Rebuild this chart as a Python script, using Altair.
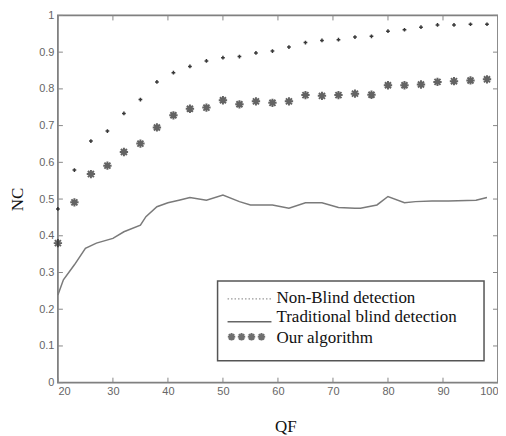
import altair as alt
import pandas as pd

# ---- data ----
qf = [20, 23, 26, 29, 32, 35, 38, 41, 44, 47, 50, 53, 56, 59, 62, 65, 68, 71, 74, 77, 80, 83, 86, 89, 92, 95, 98]
non_blind = [0.473, 0.579, 0.658, 0.685, 0.733, 0.771, 0.819, 0.844, 0.861, 0.876, 0.885, 0.888, 0.898, 0.903,
             0.914, 0.926, 0.932, 0.934, 0.941, 0.943, 0.957, 0.961, 0.968, 0.974, 0.974, 0.976, 0.976]
ours = [0.380, 0.491, 0.568, 0.591, 0.628, 0.651, 0.695, 0.728, 0.746, 0.749, 0.769, 0.758, 0.766, 0.762,
        0.766, 0.783, 0.781, 0.783, 0.787, 0.784, 0.810, 0.810, 0.812, 0.819, 0.821, 0.823, 0.826]

trad_qf = [20, 21, 23, 25, 27, 30, 32, 35, 36, 38, 40, 42, 44, 47, 50, 53, 55, 59, 62, 65, 68, 71, 74, 75,
           78, 80, 83, 85, 88, 91, 96, 98]
trad = [0.239, 0.280, 0.321, 0.366, 0.380, 0.393, 0.411, 0.429, 0.452, 0.479, 0.490, 0.497, 0.504, 0.497,
        0.511, 0.493, 0.484, 0.484, 0.475, 0.490, 0.490, 0.477, 0.475, 0.475, 0.484, 0.507, 0.490, 0.493,
        0.495, 0.495, 0.497, 0.504]

x_ticks = [20, 30, 40, 50, 60, 70, 80, 90, 100]
y_ticks = [0, 0.1, 0.2, 0.3, 0.4, 0.5, 0.6, 0.7, 0.8, 0.9, 1]
legend_labels = ["Non-Blind detection", "Traditional blind detection", "Our algorithm"]

W, H = 441, 368
GRAY = "#7a7a7a"
STAR = "M-1,0L1,0M0,-1L0,1M-0.72,-0.72L0.72,0.72M-0.72,0.72L0.72,-0.72"

df_pts = pd.DataFrame({"qf": qf, "nb": non_blind, "ours": ours})
df_trad = pd.DataFrame({"qf": trad_qf, "nc": trad})
df_xt = pd.DataFrame({"v": x_ticks})
df_yt = pd.DataFrame({"v": y_ticks})

xs = alt.Scale(domain=[20, 100], nice=False, zero=False)
ys = alt.Scale(domain=[0, 1], nice=False, zero=False)

lab_font = "Liberation Sans Narrow, Liberation Sans, sans-serif"

x_axis = alt.Axis(values=x_ticks, title="QF", tickSize=0, labelPadding=3, domain=False, grid=False,
                  labelOverlap=False,
                  labelFont=lab_font, labelFontSize=11, labelColor="#666",
                  titleFont="Liberation Serif", titleFontSize=17, titleFontWeight="normal", titleColor="#111",
                  titleX=228, titleY=44, titleBaseline="middle", titleAlign="center")
y_axis = alt.Axis(values=y_ticks, title="NC", tickSize=0, labelPadding=4, domain=False, grid=False,
                  labelOverlap=False, format="~g",
                  labelFont=lab_font, labelFontSize=11, labelColor="#666",
                  titleFont="Liberation Serif", titleFontSize=17, titleFontWeight="normal", titleColor="#111",
                  titleX=-40, titleY=184, titleBaseline="middle", titleAlign="center", titleAngle=-90)

line = alt.Chart(df_trad).mark_line(color=GRAY, strokeWidth=1.5).encode(
    x=alt.X("qf:Q", scale=xs, axis=x_axis),
    y=alt.Y("nc:Q", scale=ys, axis=y_axis),
)
nb = alt.Chart(df_pts).mark_point(shape="cross", filled=True, size=14, color="#222", opacity=0.9).encode(
    x=alt.X("qf:Q", scale=xs, axis=x_axis), y=alt.Y("nb:Q", scale=ys, axis=y_axis))
st = alt.Chart(df_pts).mark_point(shape=STAR, filled=False, size=70, color="#222", strokeWidth=2).encode(
    x=alt.X("qf:Q", scale=xs, axis=x_axis), y=alt.Y("ours:Q", scale=ys, axis=y_axis))

tick_c = "#888"
xt_b = alt.Chart(df_xt).mark_rule(color=tick_c, strokeWidth=1).encode(
    x=alt.X("v:Q", scale=xs, axis=x_axis), y=alt.value(H), y2=alt.value(H - 5))
xt_t = alt.Chart(df_xt).mark_rule(color=tick_c, strokeWidth=1).encode(
    x=alt.X("v:Q", scale=xs, axis=x_axis), y=alt.value(0), y2=alt.value(5))
yt_l = alt.Chart(df_yt).mark_rule(color=tick_c, strokeWidth=1).encode(
    y=alt.Y("v:Q", scale=ys, axis=y_axis), x=alt.value(0), x2=alt.value(5))
yt_r = alt.Chart(df_yt).mark_rule(color=tick_c, strokeWidth=1).encode(
    y=alt.Y("v:Q", scale=ys, axis=y_axis), x=alt.value(W), x2=alt.value(W - 5))

# ---- legend (decoration) ----
LX0, LX1, LY0, LY1 = 160, 427, 266, 346
box = alt.Chart(df_xt.head(1)).mark_rect(fill="white", stroke="#555", strokeWidth=1.5).encode(
    x=alt.value(LX0), x2=alt.value(LX1), y=alt.value(LY0), y2=alt.value(LY1))
s1 = alt.Chart(df_xt.head(1)).mark_rule(color="#999", strokeWidth=1.2, strokeDash=[1.5, 2]).encode(
    x=alt.value(170), x2=alt.value(214), y=alt.value(284))
s2 = alt.Chart(df_xt.head(1)).mark_rule(color="#666", strokeWidth=1.5).encode(
    x=alt.value(170), x2=alt.value(214), y=alt.value(307))
stars = [alt.Chart(df_xt.head(1)).mark_point(shape=STAR, filled=False, size=55, color="#333", strokeWidth=2).encode(
    x=alt.value(px), y=alt.value(322)) for px in [174, 184, 194, 204]]
texts = [alt.Chart(df_xt.head(1)).mark_text(text=t, align="left", baseline="middle", font="Liberation Serif",
                                            fontSize=17, color="#111").encode(
    x=alt.value(219), y=alt.value(py)) for t, py in zip(legend_labels, [283, 302, 323])]

chart = alt.layer(line, nb, st, xt_b, xt_t, yt_l, yt_r, box, s1, s2, *stars, *texts).properties(
    width=W, height=H,
    autosize=alt.AutoSizeParams(type="none"),
    padding={"left": 50, "top": 7, "right": 0, "bottom": 60},
    background="white",
).configure_view(stroke="#808080", strokeWidth=1.8)

chart.save("out.html", embed_options={"renderer": "svg", "actions": False})
